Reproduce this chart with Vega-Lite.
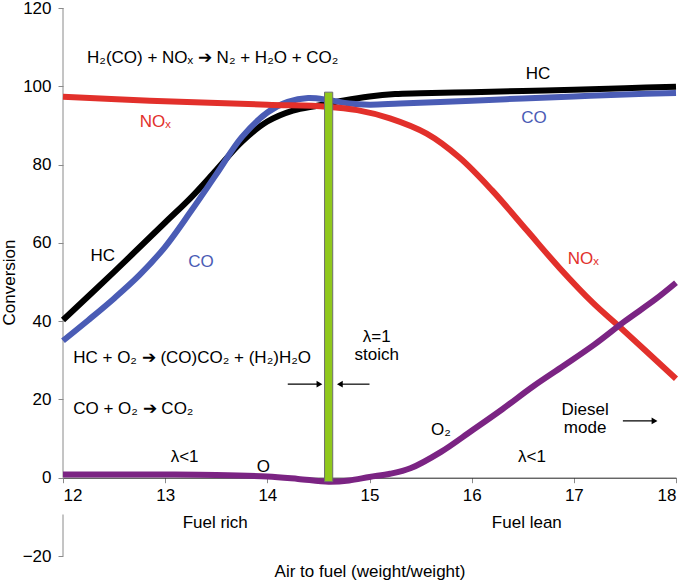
{
  "$schema": "https://vega.github.io/schema/vega-lite/v6.json",
  "width": 613,
  "height": 548,
  "autosize": {"type": "none"},
  "padding": {"left": 63, "top": 8, "right": 9, "bottom": 26},
  "background": "white",
  "config": {"font": "Liberation Sans", "view": {"stroke": null}},
  "datasets": {
    "curves": [
      {"series": "HC", "x": 12, "y": 40.3}, {"series": "HC", "x": 12.5, "y": 52.6}, {"series": "HC", "x": 13, "y": 65.2}, {"series": "HC", "x": 13.25, "y": 71.5}, {"series": "HC", "x": 13.5, "y": 78.6}, {"series": "HC", "x": 13.75, "y": 85.8}, {"series": "HC", "x": 14, "y": 91}, {"series": "HC", "x": 14.25, "y": 93.8}, {"series": "HC", "x": 14.5, "y": 95.1}, {"series": "HC", "x": 14.75, "y": 96.4}, {"series": "HC", "x": 15, "y": 97.4}, {"series": "HC", "x": 15.25, "y": 98}, {"series": "HC", "x": 15.5, "y": 98.2}, {"series": "HC", "x": 16, "y": 98.5}, {"series": "HC", "x": 16.5, "y": 98.8}, {"series": "HC", "x": 17, "y": 99.1}, {"series": "HC", "x": 17.5, "y": 99.5}, {"series": "HC", "x": 18, "y": 99.9},
      {"series": "CO", "x": 12, "y": 35}, {"series": "CO", "x": 12.25, "y": 40.3}, {"series": "CO", "x": 12.5, "y": 45.8}, {"series": "CO", "x": 12.75, "y": 51.8}, {"series": "CO", "x": 13, "y": 59}, {"series": "CO", "x": 13.25, "y": 68}, {"series": "CO", "x": 13.5, "y": 77.5}, {"series": "CO", "x": 13.75, "y": 87}, {"series": "CO", "x": 14, "y": 93.3}, {"series": "CO", "x": 14.2, "y": 96}, {"series": "CO", "x": 14.4, "y": 97}, {"series": "CO", "x": 14.6, "y": 96.5}, {"series": "CO", "x": 14.8, "y": 95.6}, {"series": "CO", "x": 15, "y": 95.3}, {"series": "CO", "x": 15.3, "y": 95.6}, {"series": "CO", "x": 16, "y": 96.3}, {"series": "CO", "x": 16.5, "y": 96.9}, {"series": "CO", "x": 17, "y": 97.4}, {"series": "CO", "x": 17.5, "y": 97.9}, {"series": "CO", "x": 18, "y": 98.3},
      {"series": "NOx", "x": 12, "y": 97.3}, {"series": "NOx", "x": 12.85, "y": 96.3}, {"series": "NOx", "x": 14, "y": 95.3}, {"series": "NOx", "x": 14.58, "y": 94.8}, {"series": "NOx", "x": 14.88, "y": 93.9}, {"series": "NOx", "x": 15.2, "y": 91.8}, {"series": "NOx", "x": 15.56, "y": 87.9}, {"series": "NOx", "x": 15.88, "y": 81.8}, {"series": "NOx", "x": 16.2, "y": 73.4}, {"series": "NOx", "x": 16.54, "y": 63.2}, {"series": "NOx", "x": 16.86, "y": 53.6}, {"series": "NOx", "x": 17.19, "y": 44.6}, {"series": "NOx", "x": 17.45, "y": 38.5}, {"series": "NOx", "x": 18, "y": 25.3},
      {"series": "O2", "x": 12, "y": 0.8}, {"series": "O2", "x": 13, "y": 0.8}, {"series": "O2", "x": 13.5, "y": 0.7}, {"series": "O2", "x": 14, "y": 0.3}, {"series": "O2", "x": 14.3, "y": -0.3}, {"series": "O2", "x": 14.6, "y": -1}, {"series": "O2", "x": 14.8, "y": -0.7}, {"series": "O2", "x": 15, "y": 0.2}, {"series": "O2", "x": 15.2, "y": 1}, {"series": "O2", "x": 15.4, "y": 2.4}, {"series": "O2", "x": 15.7, "y": 6.6}, {"series": "O2", "x": 16, "y": 12}, {"series": "O2", "x": 16.3, "y": 17.5}, {"series": "O2", "x": 16.6, "y": 23.3}, {"series": "O2", "x": 16.9, "y": 28.6}, {"series": "O2", "x": 17.2, "y": 34}, {"series": "O2", "x": 17.5, "y": 40}, {"series": "O2", "x": 17.8, "y": 45.6}, {"series": "O2", "x": 18, "y": 49.8}
    ],
    "labelsLeft": [
      {"kind": "note", "x": 12.235, "y": 107.3, "text": "H₂(CO) + NOₓ ➔ N₂ + H₂O + CO₂"},
      {"kind": "note", "x": 12.1, "y": 30.6, "text": "HC + O₂ ➔ (CO)CO₂ + (H₂)H₂O"},
      {"kind": "note", "x": 12.1, "y": 17.6, "text": "CO + O₂ ➔ CO₂"},
      {"kind": "NOx", "x": 12.75, "y": 91, "text": "NOₓ"},
      {"kind": "NOx", "x": 16.94, "y": 56, "text": "NOₓ"}
    ],
    "labelsCenter": [
      {"kind": "HC", "x": 12.39, "y": 56.6, "text": "HC"},
      {"kind": "HC", "x": 16.65, "y": 103.2, "text": "HC"},
      {"kind": "CO", "x": 13.35, "y": 55, "text": "CO"},
      {"kind": "CO", "x": 16.61, "y": 92, "text": "CO"},
      {"kind": "note", "x": 13.19, "y": 5.4, "text": "λ<1"},
      {"kind": "note", "x": 16.59, "y": 5.4, "text": "λ<1"},
      {"kind": "note", "x": 13.96, "y": 2.8, "text": "O"},
      {"kind": "note", "x": 15.7, "y": 12.2, "text": "O₂"},
      {"kind": "note", "x": 15.07, "y": 36, "text": "λ=1"},
      {"kind": "note", "x": 15.07, "y": 31.3, "text": "stoich"},
      {"kind": "note", "x": 17.11, "y": 17.3, "text": "Diesel"},
      {"kind": "note", "x": 17.11, "y": 12.7, "text": "mode"},
      {"kind": "note", "x": 13.49, "y": -11.5, "text": "Fuel rich"},
      {"kind": "note", "x": 16.54, "y": -11.5, "text": "Fuel lean"}
    ],
    "arrowShafts": [
      {"x": 17.48, "x2": 17.8, "y": 14.5},
      {"x": 14.2, "x2": 14.52, "y": 23.9},
      {"x": 14.7, "x2": 15.0, "y": 23.9}
    ],
    "arrowHeads": [
      {"dir": "right", "x": 17.79, "y": 14.5},
      {"dir": "right", "x": 14.51, "y": 23.9},
      {"dir": "left", "x": 14.71, "y": 23.9}
    ],
    "stoichBar": [{"x": 14.56, "x2": 14.64, "y": -1, "y2": 98.5}],
    "axisSegments": [{"x": 12, "y": 0, "y2": 120}, {"x": 12, "y": -9.4, "y2": -20}]
  },
  "layer": [
    {
      "data": {"name": "axisSegments"},
      "mark": {"type": "rule", "color": "#8a8a8a", "strokeWidth": 1},
      "encoding": {
        "x": {"field": "x", "type": "quantitative", "scale": {"domain": [12, 18], "nice": false, "zero": false},
          "axis": {"values": [12, 13, 14, 15, 16, 17, 18], "format": "d", "offset": -78.3, "grid": false, "domainColor": "#222", "tickColor": "#8a8a8a", "tickSize": 5, "labelFontSize": 17, "labelColor": "#000", "labelPadding": 5, "title": "Air to fuel (weight/weight)", "titleFontSize": 17, "titleFontWeight": "normal", "titleColor": "#000", "titleY": 94, "titleBaseline": "middle"}},
        "y": {"field": "y", "type": "quantitative", "scale": {"domain": [-20, 120], "nice": false, "zero": false},
          "axis": {"values": [-20, 0, 20, 40, 60, 80, 100, 120], "domain": false, "grid": false, "tickColor": "#8a8a8a", "tickSize": 5, "labelFontSize": 17, "labelColor": "#000", "labelPadding": 7, "title": "Conversion", "titleFontSize": 17, "titleFontWeight": "normal", "titleColor": "#000", "titlePadding": 4}},
        "y2": {"field": "y2"}
      }
    },
    {
      "data": {"name": "curves"},
      "mark": {"type": "line", "interpolate": "catmull-rom", "strokeWidth": 6, "strokeCap": "butt"},
      "encoding": {
        "x": {"field": "x", "type": "quantitative"},
        "y": {"field": "y", "type": "quantitative"},
        "color": {"field": "series", "type": "nominal", "legend": null, "sort": ["HC", "CO", "NOx", "O2", "note"],
          "scale": {"domain": ["HC", "CO", "NOx", "O2", "note"], "range": ["#000000", "#4a5cb5", "#e2302b", "#7b2483", "#000000"]}},
        "order": {"field": "x", "type": "quantitative"}
      }
    },
    {
      "data": {"name": "stoichBar"},
      "mark": {"type": "rect", "fill": "#90c81c", "stroke": "#6e6e6e", "strokeWidth": 1},
      "encoding": {
        "x": {"field": "x", "type": "quantitative"},
        "x2": {"field": "x2"},
        "y": {"field": "y", "type": "quantitative"},
        "y2": {"field": "y2"}
      }
    },
    {
      "data": {"name": "arrowShafts"},
      "mark": {"type": "rule", "color": "#000", "strokeWidth": 1.2},
      "encoding": {
        "x": {"field": "x", "type": "quantitative"},
        "x2": {"field": "x2"},
        "y": {"field": "y", "type": "quantitative"}
      }
    },
    {
      "data": {"name": "arrowHeads"},
      "mark": {"type": "point", "filled": true, "color": "#000", "size": 45, "opacity": 1},
      "encoding": {
        "x": {"field": "x", "type": "quantitative"},
        "y": {"field": "y", "type": "quantitative"},
        "shape": {"field": "dir", "type": "nominal", "legend": null, "scale": {"domain": ["right", "left"], "range": ["triangle-right", "triangle-left"]}}
      }
    },
    {
      "data": {"name": "labelsLeft"},
      "mark": {"type": "text", "align": "left", "baseline": "middle", "fontSize": 17},
      "encoding": {
        "x": {"field": "x", "type": "quantitative"},
        "y": {"field": "y", "type": "quantitative"},
        "text": {"field": "text"},
        "color": {"field": "kind", "type": "nominal", "legend": null}
      }
    },
    {
      "data": {"name": "labelsCenter"},
      "mark": {"type": "text", "align": "center", "baseline": "middle", "fontSize": 17},
      "encoding": {
        "x": {"field": "x", "type": "quantitative"},
        "y": {"field": "y", "type": "quantitative"},
        "text": {"field": "text"},
        "color": {"field": "kind", "type": "nominal", "legend": null}
      }
    }
  ]
}
